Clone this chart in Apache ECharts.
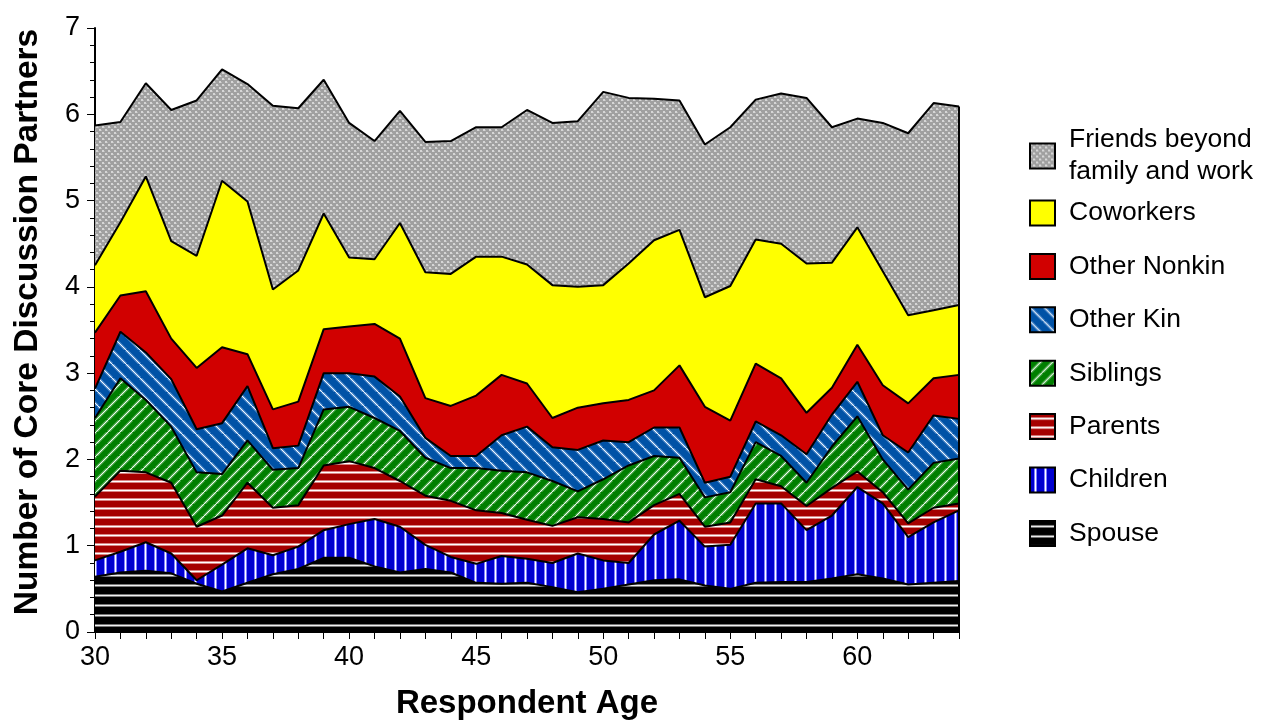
<!DOCTYPE html>
<html>
<head>
<meta charset="utf-8">
<script src="https://cdn.jsdelivr.net/npm/echarts@6/dist/echarts.min.js"></script>
<style>
  html, body { margin: 0; padding: 0; background: #fff; }
  #chart { width: 1268px; height: 720px; }
</style>
</head>
<body>
<div id="chart"></div>
<script>
// Respondent ages on the x axis
const ages = [30, 31, 32, 33, 34, 35, 36, 37, 38, 39, 40, 41, 42, 43, 44, 45, 46, 47,
              48, 49, 50, 51, 52, 53, 54, 55, 56, 57, 58, 59, 60, 61, 62, 63, 64];

// Mean number of core discussion partners by relationship type (stacked bottom to top)
const spouse = [0.64, 0.69, 0.71, 0.68, 0.56, 0.47, 0.57, 0.67, 0.73, 0.86, 0.86, 0.76, 0.69, 0.73, 0.69, 0.57, 0.56, 0.57,
                0.52, 0.46, 0.50, 0.55, 0.60, 0.61, 0.54, 0.50, 0.57, 0.58, 0.58, 0.62, 0.67, 0.62, 0.55, 0.57, 0.59];
const children = [0.19, 0.24, 0.33, 0.23, 0.04, 0.31, 0.40, 0.22, 0.26, 0.32, 0.39, 0.55, 0.53, 0.28, 0.18, 0.22, 0.32, 0.28,
                  0.28, 0.45, 0.33, 0.25, 0.53, 0.68, 0.45, 0.51, 0.92, 0.91, 0.60, 0.73, 1.01, 0.87, 0.55, 0.70, 0.82];
const parents = [0.74, 0.94, 0.81, 0.82, 0.62, 0.57, 0.76, 0.55, 0.48, 0.75, 0.73, 0.59, 0.53, 0.57, 0.65, 0.62, 0.50, 0.45,
                 0.43, 0.42, 0.48, 0.47, 0.34, 0.31, 0.23, 0.26, 0.28, 0.20, 0.28, 0.32, 0.18, 0.13, 0.16, 0.17, 0.08];
const siblings = [0.91, 1.07, 0.84, 0.65, 0.63, 0.48, 0.49, 0.44, 0.43, 0.65, 0.63, 0.58, 0.58, 0.44, 0.38, 0.49, 0.49, 0.55,
                  0.52, 0.30, 0.46, 0.66, 0.57, 0.42, 0.34, 0.35, 0.43, 0.35, 0.27, 0.48, 0.64, 0.38, 0.39, 0.52, 0.52];
const otherKin = [0.34, 0.54, 0.55, 0.55, 0.50, 0.59, 0.63, 0.25, 0.26, 0.42, 0.39, 0.48, 0.40, 0.23, 0.14, 0.14, 0.41, 0.53,
                  0.39, 0.48, 0.45, 0.27, 0.33, 0.35, 0.17, 0.18, 0.24, 0.24, 0.33, 0.37, 0.40, 0.28, 0.43, 0.55, 0.46];
const otherNonkin = [0.65, 0.42, 0.71, 0.47, 0.71, 0.88, 0.37, 0.45, 0.51, 0.51, 0.54, 0.61, 0.67, 0.46, 0.58, 0.70, 0.70, 0.50,
                     0.34, 0.49, 0.43, 0.49, 0.43, 0.72, 0.88, 0.65, 0.67, 0.66, 0.48, 0.31, 0.43, 0.58, 0.57, 0.43, 0.51];
const coworkers = [0.78, 0.85, 1.33, 1.13, 1.30, 1.93, 1.77, 1.39, 1.52, 1.34, 0.80, 0.75, 1.34, 1.46, 1.53, 1.61, 1.37, 1.38,
                   1.54, 1.40, 1.37, 1.58, 1.74, 1.57, 1.27, 1.56, 1.44, 1.56, 1.73, 1.45, 1.36, 1.32, 1.02, 0.79, 0.81];
const friends = [1.62, 1.16, 1.08, 1.52, 1.80, 1.29, 1.36, 2.13, 1.88, 1.55, 1.56, 1.37, 1.30, 1.51, 1.54, 1.50, 1.50, 1.79,
                 1.88, 1.92, 2.24, 1.92, 1.64, 1.50, 1.77, 1.84, 1.62, 1.74, 1.92, 1.57, 1.26, 1.72, 2.11, 2.40, 2.30];

const yTicks = [0, 1, 2, 3, 4, 5, 6, 7];
const xLabelStep = 5;

const FONT = '"Liberation Sans", Arial, Helvetica, sans-serif';
const FRIENDS = 'Friends beyond\nfamily and work';

// Small repeating canvas tiles used as hatch fills
function tile(w, h, paint) {
  const c = document.createElement('canvas');
  c.width = w; c.height = h;
  paint(c.getContext('2d'), w, h);
  return { image: c, repeat: 'repeat' };
}
function rows(base, edge, core) {
  return (g, w, h) => {
    g.fillStyle = base; g.fillRect(0, 0, w, h);
    const m = Math.floor(h / 2);
    g.fillStyle = edge; g.fillRect(0, m - 1, w, 1); g.fillRect(0, m + 1, w, 1);
    g.fillStyle = core; g.fillRect(0, m, w, 1);
  };
}
function cols(base, edge, core) {
  return (g, w, h) => {
    g.fillStyle = base; g.fillRect(0, 0, w, h);
    const m = Math.floor(w / 2);
    g.fillStyle = edge; g.fillRect(m - 1, 0, 1, h); g.fillRect(m + 1, 0, 1, h);
    g.fillStyle = core; g.fillRect(m, 0, 1, h);
  };
}
function diag(base, glow, core, rising) {
  return (g, w, h) => {
    g.fillStyle = base; g.fillRect(0, 0, w, h);
    const draw = (style, width) => {
      g.strokeStyle = style; g.lineWidth = width;
      for (let k = -1; k <= 1; k++) {
        g.beginPath();
        if (rising) { g.moveTo(k * w, h); g.lineTo(k * w + w, 0); }
        else { g.moveTo(k * w, 0); g.lineTo(k * w + w, h); }
        g.stroke();
      }
    };
    draw(glow, 3);
    draw(core, 1);
  };
}

const fills = {
  friends: tile(6, 6, (g, w, h) => {
    g.fillStyle = '#a0a0a0'; g.fillRect(0, 0, w, h);
    g.fillStyle = '#d6d6d6'; g.fillRect(0, 0, 2, 2); g.fillRect(3, 3, 2, 2);
    g.fillStyle = '#bababa'; g.fillRect(2, 1, 1, 1); g.fillRect(5, 4, 1, 1);
  }),
  coworkers: '#ffff00',
  otherNonkin: '#d10000',
  otherKin: tile(14, 14, diag('#0052a6', 'rgba(200,225,255,0.45)', '#f2f8ff', false)),
  siblings: tile(12, 12, diag('#007f00', 'rgba(210,240,210,0.45)', '#f2fff2', true)),
  parents: tile(9, 9, rows('#a50000', '#d98484', '#ffffff')),
  children: tile(10, 10, cols('#0000cf', '#8080ff', '#ffffff')),
  spouse: tile(10, 10, rows('#000000', '#777777', '#f2f2f2'))
};

const layers = [
  { name: 'Spouse', values: spouse, fill: fills.spouse },
  { name: 'Children', values: children, fill: fills.children },
  { name: 'Parents', values: parents, fill: fills.parents },
  { name: 'Siblings', values: siblings, fill: fills.siblings },
  { name: 'Other Kin', values: otherKin, fill: fills.otherKin },
  { name: 'Other Nonkin', values: otherNonkin, fill: fills.otherNonkin },
  { name: 'Coworkers', values: coworkers, fill: fills.coworkers },
  { name: FRIENDS, values: friends, fill: fills.friends }
];

const ageCats = ages.map(String);

// Filled bands (stacked)
const bandSeries = layers.map(l => ({
  name: l.name,
  type: 'line',
  stack: 'bands',
  data: l.values.slice(),
  symbol: 'none',
  showSymbol: false,
  color: l.fill,
  itemStyle: { color: l.fill },
  lineStyle: { width: 0, color: l.fill },
  areaStyle: { color: l.fill, opacity: 1 },
  silent: true,
  z: 2
}));

// Black outlines along the top of every band, drawn above all fills
const outlineSeries = layers.map(l => ({
  name: l.name + ' outline',
  type: 'line',
  stack: 'outlines',
  data: l.values.slice(),
  symbol: 'none',
  showSymbol: false,
  lineStyle: { width: 2, color: '#000' },
  silent: true,
  z: 4
}));

// Closing edge at the last age
const lastIdx = ages.length - 1;
const lastTotal = layers.reduce((s, l) => s + l.values[lastIdx], 0);
const closingEdge = {
  name: 'closing edge',
  type: 'line',
  data: [[ageCats[lastIdx], 0], [ageCats[lastIdx], lastTotal]],
  symbol: 'none',
  showSymbol: false,
  lineStyle: { width: 2, color: '#000' },
  silent: true,
  z: 4
};

const legendText = { fontFamily: FONT, fontSize: 26.5, color: '#000', lineHeight: 32, padding: [0, 0, 0, 9] };
const legendBase = {
  orient: 'vertical',
  left: 1024,
  itemWidth: 25,
  itemHeight: 25,
  icon: 'rect',
  itemStyle: { borderColor: '#000', borderWidth: 2 },
  textStyle: legendText,
  selectedMode: false
};

const chart = echarts.init(document.getElementById('chart'), null, { renderer: 'canvas' });
chart.setOption({
  animation: false,
  backgroundColor: '#fff',
  grid: { left: 95, right: 309, top: 28, bottom: 88, containLabel: false, outerBoundsMode: 'none' },
  legend: [
    Object.assign({}, legendBase, { data: [FRIENDS], top: 119 }),
    Object.assign({}, legendBase, {
      data: ['Coworkers', 'Other Nonkin', 'Other Kin', 'Siblings', 'Parents', 'Children', 'Spouse'],
      top: 192,
      itemGap: 21.4
    })
  ],
  xAxis: {
    type: 'category',
    data: ageCats,
    boundaryGap: false,
    name: 'Respondent Age',
    nameLocation: 'middle',
    nameGap: 55,
    nameTextStyle: { fontFamily: FONT, fontWeight: 'bold', fontSize: 33, color: '#000' },
    axisLine: { show: true, onZero: false, lineStyle: { color: '#000', width: 2 } },
    axisTick: { show: true, inside: false, interval: 0, length: 7, lineStyle: { color: '#000', width: 1 } },
    axisLabel: {
      fontFamily: FONT, fontSize: 27, color: '#000', margin: 12,
      interval: (idx, val) => Number(val) % xLabelStep === 0
    },
    splitLine: { show: false }
  },
  yAxis: {
    type: 'value',
    min: yTicks[0],
    max: yTicks[yTicks.length - 1],
    interval: 1,
    name: 'Number of Core Discussion Partners',
    nameLocation: 'middle',
    nameRotate: 90,
    nameGap: 50,
    nameTextStyle: { fontFamily: FONT, fontWeight: 'bold', fontSize: 33.5, color: '#000', padding: [0, 0, 0, 16] },
    axisLine: { show: true, lineStyle: { color: '#000', width: 2 } },
    axisTick: { show: true, inside: false, length: 8, lineStyle: { color: '#000', width: 1 } },
    minorTick: { show: true, splitNumber: 5, length: 5, lineStyle: { color: '#000', width: 1 } },
    axisLabel: { fontFamily: FONT, fontSize: 27, color: '#000', margin: 15 },
    splitLine: { show: false },
    minorSplitLine: { show: false }
  },
  series: bandSeries.concat(outlineSeries, [closingEdge])
});
</script>
</body>
</html>
